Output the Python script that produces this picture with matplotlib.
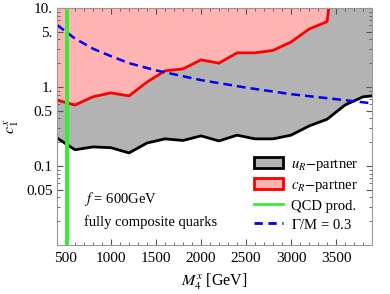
import matplotlib
matplotlib.use('Agg')
import matplotlib.pyplot as plt
import numpy as np
from matplotlib.patches import Patch
from matplotlib.lines import Line2D
from matplotlib.ticker import FixedLocator, NullFormatter

plt.rcParams['font.family'] = ['Liberation Serif', 'DejaVu Serif']
plt.rcParams['mathtext.fontset'] = 'stix'

# u_R partner bound (black)
m_u = [400, 600, 800, 1000, 1200, 1400, 1600, 1800, 2000, 2200, 2400,
       2600, 2800, 3000, 3200, 3400, 3600, 3800, 3900]
c_u = [0.226, 0.16, 0.174, 0.17, 0.146, 0.195, 0.22, 0.21, 0.24, 0.207, 0.245,
       0.22, 0.22, 0.245, 0.32, 0.39, 0.59, 0.75, 0.77]

# c_R partner bound (red)
m_c = [400, 600, 800, 1000, 1200, 1400, 1600, 1800, 2000, 2200, 2400,
       2600, 2800, 3000, 3200, 3400, 3430]
c_c = [0.68, 0.59, 0.75, 0.84, 0.77, 1.15, 1.6, 1.69, 2.2, 2.0, 2.7,
       2.7, 2.9, 3.7, 5.4, 6.7, 12.0]

# Gamma/M = 0.3 (blue dashed)
m_w = [400, 600, 800, 1000, 1200, 1500, 2000, 2500, 3000, 3500, 3900]
c_w = [6.1, 4.1, 3.05, 2.45, 2.0, 1.62, 1.22, 0.98, 0.81, 0.7, 0.62]

m_qcd = 510
ytop = 10

fig = plt.figure(figsize=(3.9, 2.94), dpi=100)
ax = fig.add_axes([0.146, 0.167, 0.808, 0.806])

ax.fill_between(m_u, c_u, ytop, color='#b3b3b3', lw=0)
ax.fill_between(m_c, c_c, 100, color='#ffb3b3', lw=0)
ax.plot(m_u, c_u, color='black', lw=2)
ax.plot(m_c, c_c, color='#ff0000', lw=2)
ax.plot(m_w, c_w, color='#0000ee', lw=1.8, ls=(0, (3.5, 2)))
ax.axvline(m_qcd, color='#33ee33', lw=2.8)

ax.set_yscale('log')
ax.set_xlim(400, 3900)
ax.set_ylim(0.01, 10)

ax.set_xticks([500, 1000, 1500, 2000, 2500, 3000, 3500])
ax.xaxis.set_minor_locator(FixedLocator(np.arange(400, 3901, 100)))
ax.set_yticks([0.05, 0.1, 0.5, 1, 5, 10])
ax.set_yticklabels(['0.05', '0.1', '0.5', '1.', '5.', '10.'])
ax.yaxis.set_minor_locator(FixedLocator(
    [k * 10.0 ** e for e in (-2, -1, 0) for k in range(2, 10)]))
ax.yaxis.set_minor_formatter(NullFormatter())

ax.tick_params(which='both', direction='in', top=True, right=True,
               labelsize=11, color='#555555')
ax.tick_params(axis='x', pad=5)
ax.tick_params(axis='y', pad=3)
ax.tick_params(which='major', length=4)
ax.tick_params(which='minor', length=2)
for s in ax.spines.values():
    s.set_color('#999999')

ax.set_xlabel(r'$M_4^x$ [GeV]', fontsize=11.5, labelpad=5)
ax.set_ylabel(r'$c_1^x$', fontsize=11.5, labelpad=4)

ax.text(0.085, 0.175, r'$f$ = 600GeV', transform=ax.transAxes, fontsize=10.5)
ax.text(0.085, 0.08, 'fully composite quarks', transform=ax.transAxes, fontsize=10.5)

handles = [
    Patch(facecolor='#b3b3b3', edgecolor='black', lw=2),
    Patch(facecolor='#ffb3b3', edgecolor='#ff0000', lw=2),
    Line2D([], [], color='#33ee33', lw=2),
    Line2D([], [], color='#0000ee', lw=2, ls=(0, (3, 2))),
]
labels = [r'$u_R$$-$partner', r'$c_R$$-$partner', 'QCD prod.', r'$\Gamma$/M = 0.3']
ax.legend(handles, labels, loc='lower right', frameon=False, fontsize=10.5,
          handlelength=2.0, handleheight=0.8, handletextpad=0.6,
          labelspacing=0.35, bbox_to_anchor=(1.0, 0.0))

fig.savefig('out.png', dpi=100)
